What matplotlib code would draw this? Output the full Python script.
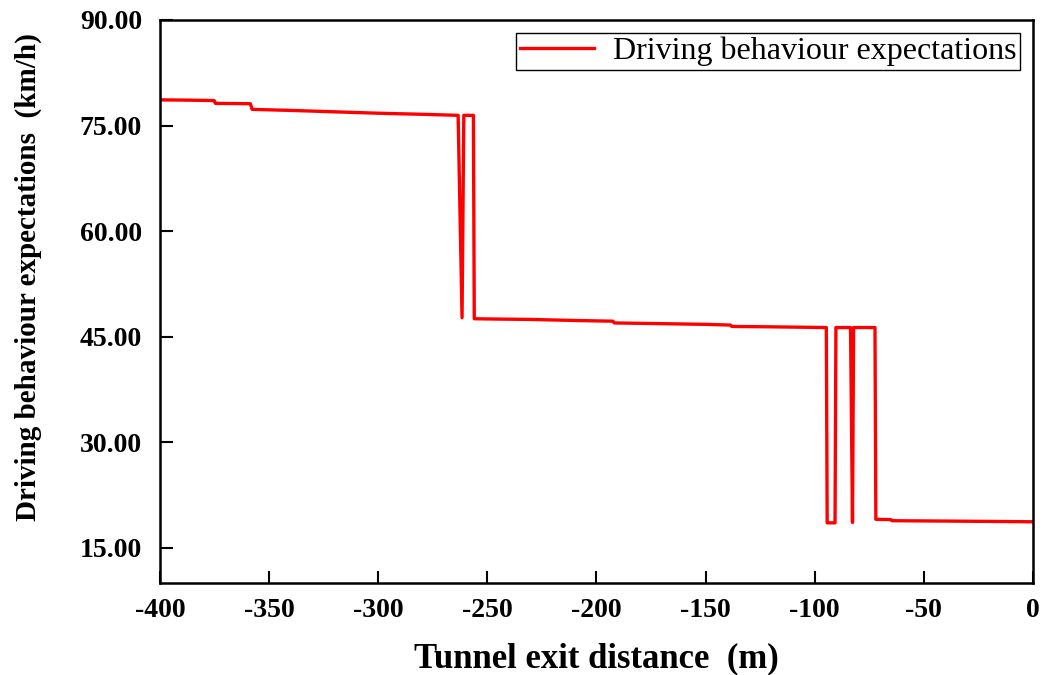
import matplotlib
matplotlib.use('Agg')
import matplotlib.pyplot as plt

# distance to tunnel exit (m) and expected speed (km/h)
dist = [-400, -390, -375.2, -374.6, -358.6, -357.8, -340, -320, -300, -280, -263.4,
        -261.6, -260.8, -256.4, -256.0, -245, -230, -210, -192.5, -191.8, -170, -150,
        -138.6, -138.0, -120, -94.7, -94.3, -90.7, -90.3, -83.6, -82.7, -82.2,
        -72.4, -72.0, -65.0, -64.5, -40, -20, 0]
speed = [78.65, 78.62, 78.55, 78.15, 78.1, 77.3, 77.15, 76.95, 76.75, 76.6, 76.45,
         47.7, 76.45, 76.45, 47.55, 47.5, 47.45, 47.3, 47.2, 46.95, 46.85, 46.75,
         46.65, 46.45, 46.4, 46.3, 18.55, 18.55, 46.3, 46.3, 18.6, 46.3,
         46.3, 19.05, 19.0, 18.85, 18.8, 18.75, 18.7]

x_ticks = [-400, -350, -300, -250, -200, -150, -100, -50, 0]
y_ticks = [15, 30, 45, 60, 75, 90]

plt.rcParams['font.family'] = ['Liberation Serif', 'DejaVu Serif']

fig = plt.figure(figsize=(10.43, 6.75), dpi=100)
ax = fig.add_axes([0.1534, 0.1363, 0.8370, 0.8341])

ax.plot(dist, speed, color='#ff0000', lw=2.4, label='Driving behaviour expectations')

ax.set_xlim(-400, 0)
ax.set_ylim(10, 90)
ax.set_xticks(x_ticks)
ax.set_yticks(y_ticks)
ax.set_xticklabels([str(v) for v in x_ticks])
ax.set_yticklabels([f'{v:.2f}' for v in y_ticks])
ax.tick_params(direction='in', length=9, width=1.5, labelsize=20, top=False, right=False)
ax.tick_params(axis='x', pad=11)
ax.tick_params(axis='y', pad=13)
for lbl in ax.get_xticklabels() + ax.get_yticklabels():
    lbl.set_fontweight('bold')
for sp in ax.spines.values():
    sp.set_linewidth(1.8)

ax.set_xlabel('Tunnel exit distance  (m)', fontsize=25, fontweight='bold')
ax.set_ylabel('Driving behaviour expectations  (km/h)', fontsize=21, fontweight='bold')
ax.xaxis.set_label_coords(0.5, -0.106)
ax.yaxis.set_label_coords(-0.135, 0.543)

leg = ax.legend(loc='upper right', fontsize=23, fancybox=False, edgecolor='black',
                framealpha=1, handlelength=2.3, handletextpad=0.6,
                borderaxespad=0.4, borderpad=0.12)
leg.get_frame().set_linewidth(1.0)

plt.savefig('out.png', dpi=100)
